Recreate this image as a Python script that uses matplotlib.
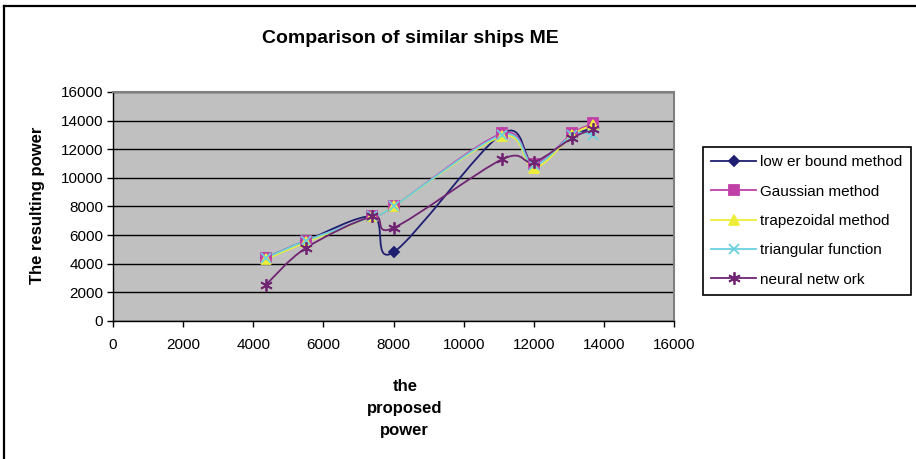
import matplotlib
matplotlib.use("Agg")
import matplotlib.pyplot as plt
from matplotlib.path import Path
from matplotlib.patches import PathPatch
from matplotlib.lines import Line2D

plt.rcParams['font.family'] = ['Liberation Sans', 'DejaVu Sans']

# data
proposed = [4350, 5500, 7400, 8000, 11100, 12000, 13100, 13700]
lower_bound = [4400, 5600, 7300, 4800, 13100, 11000, 12900, 13500]
gaussian = [4400, 5600, 7300, 8000, 13100, 11000, 13100, 13800]
trapezoidal = [4300, 5500, 7300, 8000, 12900, 10700, 13000, 13700]
triangular = [4400, 5600, 7300, 8000, 13000, 10900, 13000, 13000]
neural = [2500, 5100, 7300, 6500, 11300, 11100, 12800, 13400]

names = ['low er bound method', 'Gaussian method', 'trapezoidal method',
         'triangular function', 'neural netw ork']
series = [lower_bound, gaussian, trapezoidal, triangular, neural]
colors = ['#1f1f72', '#c040a8', '#eeee3a', '#6cd0e0', '#702472']
markers = ['D', 's', '^', 'x', (6, 2, 0)]
msizes = [5, 6.5, 7, 7, 9]


def smooth_path(xs, ys):
    # excel style smoothed line: cubic bezier, tension 1/6
    pts = list(zip(xs, ys))
    n = len(pts)
    verts = [pts[0]]
    codes = [Path.MOVETO]
    for i in range(n - 1):
        p0 = pts[i - 1] if i > 0 else pts[i]
        p1 = pts[i]
        p2 = pts[i + 1]
        p3 = pts[i + 2] if i + 2 < n else pts[i + 1]
        c1 = (p1[0] + (p2[0] - p0[0]) / 6, p1[1] + (p2[1] - p0[1]) / 6)
        c2 = (p2[0] - (p3[0] - p1[0]) / 6, p2[1] - (p3[1] - p1[1]) / 6)
        verts += [c1, c2, p2]
        codes += [Path.CURVE4] * 3
    return Path(verts, codes)


fig = plt.figure(figsize=(9.16, 4.59), dpi=100)
ax = fig.add_axes([0.1234, 0.3007, 0.6124, 0.4989])
ax.set_facecolor('#c0c0c0')

for ys, c, m, ms in zip(series, colors, markers, msizes):
    ax.add_patch(PathPatch(smooth_path(proposed, ys), facecolor='none',
                           edgecolor=c, lw=1.3, zorder=3))
    ax.plot(proposed, ys, linestyle='none', marker=m, ms=ms, color=c,
            mew=1.3, zorder=4)

ax.set_xlim(0, 16000)
ax.set_ylim(0, 16000)
ax.set_xticks(range(0, 16001, 2000))
ax.set_yticks(range(0, 16001, 2000))
ax.yaxis.grid(True, color='black', lw=1)
ax.set_axisbelow(True)
ax.tick_params(direction='out', length=4, width=1, labelsize=11, pad=3)
ax.tick_params(axis='x', pad=8)
for s in ['top', 'right']:
    ax.spines[s].set_color('#808080')
    ax.spines[s].set_linewidth(1.5)
for s in ['left', 'bottom']:
    ax.spines[s].set_color('black')
    ax.spines[s].set_linewidth(1)

fig.text(0.448, 0.917, 'Comparison of similar ships ME', ha='center',
         va='center', fontsize=14, fontweight='bold')
fig.text(0.041, 0.552, 'The resulting power', rotation=90, ha='center',
         va='center', fontsize=12, fontweight='bold')
fig.text(0.442, 0.11, 'the\nproposed\npower', ha='center', va='center',
         fontsize=12, fontweight='bold', linespacing=1.55)

handles = [Line2D([], [], color=c, marker=m, ms=ms, mew=1.3, lw=1.3)
           for c, m, ms in zip(colors, markers, msizes)]
leg = fig.legend(handles, names, loc='upper left',
                 bbox_to_anchor=(0.7675, 0.6797), bbox_transform=fig.transFigure,
                 borderaxespad=0, fancybox=False, edgecolor='black',
                 framealpha=1, fontsize=11, handlelength=2.9,
                 handletextpad=0.3, labelspacing=1.0, borderpad=0.55)
leg.get_frame().set_linewidth(1.2)

# outer chart border (top and left visible)
fig.add_artist(Line2D([0.0048, 1.0], [0.986, 0.986], color='black', lw=1.6,
                      transform=fig.transFigure))
fig.add_artist(Line2D([0.0048, 0.0048], [0.0, 0.986], color='black', lw=1.6,
                      transform=fig.transFigure))

fig.savefig('out.png', dpi=100)
